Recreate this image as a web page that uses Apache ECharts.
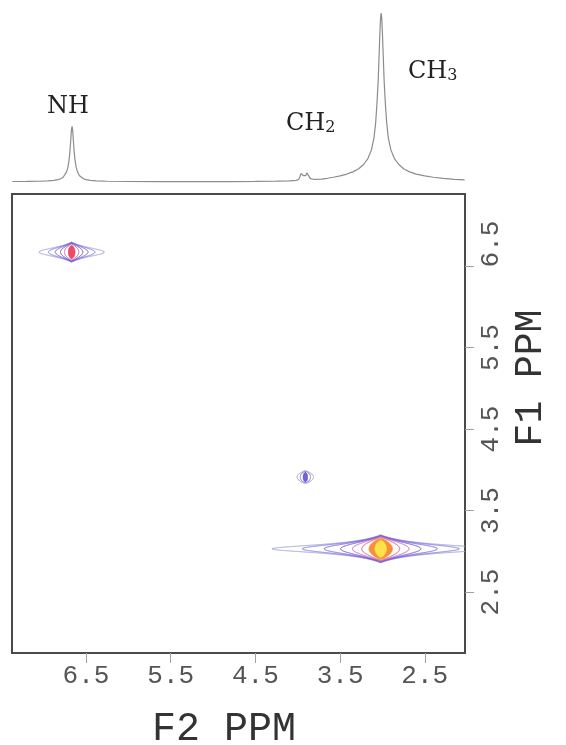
<!DOCTYPE html>
<html>
<head>
<meta charset="utf-8">
<title>2D NMR contour plot</title>
<script src="https://cdn.jsdelivr.net/npm/echarts@6.0.0/dist/echarts.min.js"></script>
<style>
  html, body { margin: 0; padding: 0; background: #ffffff; }
  #chart { width: 566px; height: 745px; }
</style>
</head>
<body>
<div id="chart"></div>
<script>
// 1D proton trace drawn above the map: chemical shift (ppm) and intensity (CH3 = 100)
const specPpm = [
  7.37, 7.20, 7.05, 6.95, 6.88, 6.83, 6.80, 6.77, 6.75, 6.73, 6.715, 6.70, 6.69, 6.68, 6.672,
  6.665, 6.658, 6.65, 6.64, 6.63, 6.615, 6.60, 6.58, 6.56, 6.53, 6.50, 6.45, 6.38, 6.25, 6.00,
  5.60, 5.20, 4.80, 4.50, 4.25, 4.10, 4.02, 3.99, 3.975, 3.963, 3.955, 3.947, 3.935, 3.92, 3.905,
  3.893, 3.885, 3.877, 3.865, 3.85, 3.80, 3.72, 3.65, 3.58, 3.50, 3.42, 3.35, 3.28, 3.22, 3.17,
  3.13, 3.10, 3.08, 3.065, 3.05, 3.04, 3.03, 3.022, 3.015, 3.008, 3.00, 2.99, 2.98, 2.965, 2.95,
  2.93, 2.90, 2.86, 2.81, 2.75, 2.68, 2.60, 2.50, 2.40, 2.28, 2.15, 2.03
];
const specInt = [
  0.3, 0.35, 0.45, 0.7, 1.0, 1.4, 1.9, 2.8, 3.9, 6.0, 8.5, 13, 18, 25, 31,
  33, 31, 25, 18, 13, 8.5, 6.0, 3.9, 2.8, 1.9, 1.4, 1.0, 0.7, 0.45, 0.3,
  0.2, 0.2, 0.25, 0.35, 0.5, 0.7, 1.0, 1.5, 3.0, 5.0, 5.6, 5.0, 3.8, 3.4, 3.8,
  5.4, 6.0, 5.4, 3.2, 2.0, 1.5, 1.7, 2.2, 2.8, 3.6, 4.7, 6.0, 7.8, 10.5, 14,
  19, 26, 35, 46, 60, 74, 88, 97, 100, 97, 88, 74, 60, 46, 35,
  26, 19, 14, 10.5, 7.8, 6.0, 4.7, 3.6, 2.8, 2.1, 1.6, 1.3
];

// Group assignments written over the 1D trace
const groupLabels = ['NH', 'CH{sub|2}', 'CH{sub|3}'];

// Diagonal cross peaks: position (F2, F1) and height
const peakNames = ['A', 'B', 'C'];
const peakF2 = [6.67, 3.91, 3.02];
const peakF1 = [6.67, 3.91, 3.03];
const peakAmp = [33, 4.5, 100];
// Peak shape in ppm: F2 line width, F1 crest height, F2 decay of the crest
const peakWidthF2 = [0.068, 0.052, 0.129];
const peakCrestF1 = [0.100, 0.072, 0.133];
const peakCrestF2 = [0.236, 0.300, 0.413];

// Contour levels (same units as peakAmp), lowest first
const contourLevels = [1, 1.9, 3.6, 6.9, 13, 25, 47, 78];

// Axis ticks (ppm)
const f2Ticks = [6.5, 5.5, 4.5, 3.5, 2.5];
const f1Ticks = [6.5, 5.5, 4.5, 3.5, 2.5];

// ---------------------------------------------------------------------------
const F2_RANGE = [2.025, 7.374];
const F1_RANGE = [1.752, 7.383];
const MONO = "'Liberation Mono', 'DejaVu Sans Mono', monospace";
const SERIF = "'DejaVu Serif', serif";
const levelColors = ['#a0a0e2', '#8078dc', '#7462d8', '#7444cc', '#c060c6', '#ec4c68', '#f6903a', '#fde24c'];
const FILL_BELOW_K = 2.2;  // contours above 1/2.2 of a peak's height are drawn filled

// Closed outline of one contour level of one peak (K = peak height / level), in pixels
function ringPolygon(api, p, K) {
  const a = peakWidthF2[p] * Math.sqrt(K - 1);              // half length along F2
  const h = peakCrestF1[p] * Math.pow(Math.log(K), 1 / 6);  // crest height along F1
  const w = peakCrestF2[p];
  const n = 480;
  const upper = [], lower = [];
  for (let i = 0; i <= n; i++) {
    const dx = a * Math.sin((-1 + 2 * i / n) * Math.PI / 2);
    const t = dx / a;
    const dy = Math.sqrt(Math.max(0, 1 - t * t)) * h / (1 + Math.abs(dx) / w);
    upper.push(api.coord([peakF2[p] + dx, peakF1[p] + dy]));
    lower.push(api.coord([peakF2[p] + dx, peakF1[p] - dy]));
  }
  return upper.concat(lower.reverse());
}

const rings = [];
peakNames.forEach((name, p) => {
  contourLevels.forEach((lv, l) => {
    if (lv < peakAmp[p]) rings.push([peakF2[p], peakF1[p], p, l]);
  });
});

const labelOffsets = [[-14, 45], [-18, -28], [0, -54]];
const tickFont = { fontFamily: MONO, fontSize: 26, color: '#555555' };

const chart = echarts.init(document.getElementById('chart'), null, { renderer: 'canvas' });

chart.setOption({
  animation: false,
  backgroundColor: '#ffffff',
  grid: [
    { left: 12, top: 194, width: 453, height: 459, show: true,
      borderColor: '#4a4a4a', borderWidth: 2, backgroundColor: 'transparent', containLabel: false },
    { left: 12, top: 13, width: 453, height: 169, containLabel: false }
  ],
  xAxis: [
    {
      type: 'value', gridIndex: 0, min: F2_RANGE[0], max: F2_RANGE[1], inverse: true,
      position: 'bottom',
      axisLine: { show: false },
      splitLine: { show: false },
      axisTick: { show: true, inside: false, length: 10, customValues: f2Ticks,
        lineStyle: { color: '#a0a0a0', width: 1 } },
      axisLabel: Object.assign({ customValues: f2Ticks, formatter: v => v.toFixed(1), margin: 10 }, tickFont)
    },
    { type: 'value', gridIndex: 1, min: F2_RANGE[0], max: F2_RANGE[1], inverse: true, show: false }
  ],
  yAxis: [
    {
      type: 'value', gridIndex: 0, min: F1_RANGE[0], max: F1_RANGE[1], position: 'right',
      axisLine: { show: false },
      splitLine: { show: false },
      axisTick: { show: true, inside: false, length: 9, customValues: f1Ticks,
        lineStyle: { color: '#a0a0a0', width: 1 } },
      axisLabel: Object.assign({
        customValues: f1Ticks,
        // the top label sits a little further along the axis than its tick
        formatter: v => (v === f1Ticks[0] ? '{top|' + v.toFixed(1) + '}' : v.toFixed(1)),
        rich: { top: Object.assign({ padding: [0, 0, 0, 44] }, tickFont) },
        rotate: 90, align: 'center', verticalAlign: 'top', margin: 13
      }, tickFont)
    },
    { type: 'value', gridIndex: 1, min: 0, max: 100, show: false }
  ],
  series: [
    {
      type: 'line', xAxisIndex: 1, yAxisIndex: 1, silent: true,
      data: specPpm.map((p, i) => [p, specInt[i]]),
      showSymbol: false, clip: false,
      lineStyle: { color: '#8c8c8c', width: 1.2 }
    },
    {
      type: 'custom', xAxisIndex: 0, yAxisIndex: 0, silent: true, clip: true,
      data: rings, encode: { x: 0, y: 1 },
      renderItem: (params, api) => {
        const p = api.value(2), l = api.value(3);
        const K = peakAmp[p] / contourLevels[l];
        return {
          type: 'polygon',
          shape: { points: ringPolygon(api, p, K) },
          style: { stroke: levelColors[l], fill: K < FILL_BELOW_K ? levelColors[l] : 'none', lineWidth: 1 }
        };
      }
    },
    {
      type: 'scatter', xAxisIndex: 0, yAxisIndex: 0, silent: true,
      symbolSize: 1, itemStyle: { opacity: 0 },
      data: peakNames.map((n, i) => ({ name: n, value: [peakF2[i], peakF1[i]],
        label: { offset: labelOffsets[i] } })),
      label: { show: true, position: 'inside', formatter: '{b}',
        fontFamily: MONO, fontSize: 20, color: '#333333' }
    }
  ],
  graphic: [
    { type: 'text', x: 68, y: 107, silent: true,
      style: { text: groupLabels[0], fontFamily: SERIF, fontSize: 24, fill: '#222222',
        align: 'center', verticalAlign: 'middle' } },
    { type: 'text', x: 286, y: 124, silent: true,
      style: { text: groupLabels[1], fontFamily: SERIF, fontSize: 24, fill: '#222222',
        align: 'left', verticalAlign: 'middle',
        rich: { sub: { fontFamily: SERIF, fontSize: 16, fill: '#222222', verticalAlign: 'bottom' } } } },
    { type: 'text', x: 408, y: 72, silent: true,
      style: { text: groupLabels[2], fontFamily: SERIF, fontSize: 24, fill: '#222222',
        align: 'left', verticalAlign: 'middle',
        rich: { sub: { fontFamily: SERIF, fontSize: 16, fill: '#222222', verticalAlign: 'bottom' } } } },
    { type: 'text', x: 224, y: 729, silent: true,
      style: { text: 'F2 PPM', fontFamily: MONO, fontSize: 40, fill: '#333333',
        align: 'center', verticalAlign: 'middle' } },
    { type: 'text', x: 531, y: 378, rotation: Math.PI / 2, silent: true,
      style: { text: 'F1 PPM', fontFamily: MONO, fontSize: 38, fill: '#333333',
        align: 'center', verticalAlign: 'middle' } }
  ]
});
</script>
</body>
</html>
